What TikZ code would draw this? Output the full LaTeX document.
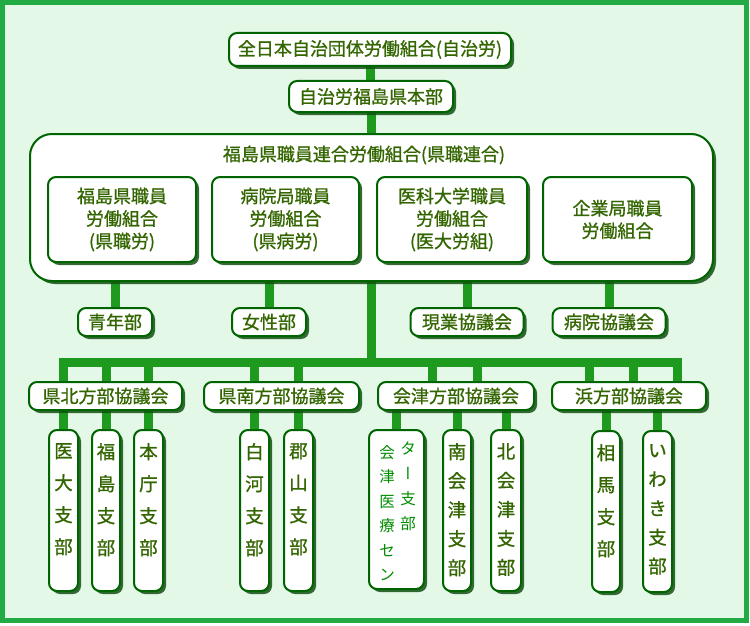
\documentclass[tikz,border=0pt]{standalone}
\usepackage{fontspec}
\setmainfont[FakeBold=1]{Noto Sans CJK JP}
\newfontfamily\vertfont[RawFeature=+vert]{Noto Sans CJK JP}
\newfontfamily\thinfont{Noto Sans CJK JP}
\usetikzlibrary{shadows}
\definecolor{bgc}{RGB}{228,248,232}
\definecolor{framec}{RGB}{34,170,68}
\definecolor{lineg}{RGB}{30,155,30}
\definecolor{bdr}{RGB}{0,100,0}
\definecolor{shd}{RGB}{20,80,20}
\definecolor{txt}{RGB}{51,102,0}
\definecolor{txtb}{RGB}{0,140,0}
\pgfdeclarelayer{bg}
\pgfsetlayers{bg,main}
\begin{document}
\begin{tikzpicture}[x=1pt,y=-1pt,
  box/.style={draw=bdr, line width=2pt, fill=white, rounded corners=8pt, inner sep=0pt,
     drop shadow={shadow xshift=3pt, shadow yshift=-3pt, fill=shd, opacity=0.85},
     text=txt, font=\fontsize{18pt}{22.5pt}\selectfont, align=center},
  conn/.style={draw=lineg, line width=9pt},
  vtxt/.style={text=txt, inner sep=0pt, anchor=north, align=center},
  vfour/.style={vtxt, font=\fontsize{18.5pt}{32pt}\selectfont},
  vfive/.style={vtxt, font=\fontsize{18.5pt}{29pt}\selectfont},
  vsmall/.style={inner sep=0pt, anchor=north, align=center, text=txtb, font=\thinfont\fontsize{15.5pt}{24.5pt}\selectfont},
]
\useasboundingbox (0,0) rectangle (750,626);
\begin{pgfonlayer}{bg}
\fill[white] (0,0) rectangle (750,626);
\draw[framec, line width=5pt, fill=bgc] (2.5,2.5) rectangle (746.5,620.5);
\end{pgfonlayer}

% top levels
\node[box, minimum width=282, minimum height=33] (top) at (370,49.5) {全日本自治団体労働組合(自治労)};
\node[box, minimum width=164, minimum height=31] (hq) at (371,96.5) {自治労福島県本部};
\node[box, rounded corners=22pt, minimum width=683, minimum height=147] (big) at (371.5,207.5) {};
\node[text=txt, inner sep=0pt, font=\fontsize{18pt}{22.5pt}\selectfont] (bigt) at (364,155) {福島県職員連合労働組合(県職連合)};

% unions inside
\node[box, minimum width=148, minimum height=85] (u1) at (122,219.5) {福島県職員\\労働組合\\(県職労)};
\node[box, minimum width=147, minimum height=85] (u2) at (285.5,219.5) {病院局職員\\労働組合\\(県病労)};
\node[box, minimum width=150, minimum height=85] (u3) at (452,219.5) {医科大学職員\\労働組合\\(医大労組)};
\node[box, minimum width=149, minimum height=85] (u4) at (617.5,219.5) {企業局職員\\労働組合};

% sections
\node[box, minimum width=74, minimum height=28] (s1) at (115,322) {青年部};
\node[box, minimum width=74, minimum height=28] (s2) at (269,322) {女性部};
\node[box, minimum width=113, minimum height=28] (s3) at (467,322) {現業協議会};
\node[box, minimum width=113, minimum height=28] (s4) at (609,322) {病院協議会};

% councils
\node[box, minimum width=153, minimum height=28] (c1) at (105.5,396) {県北方部協議会};
\node[box, minimum width=155, minimum height=28] (c2) at (281.5,396) {県南方部協議会};
\node[box, minimum width=156, minimum height=28] (c3) at (456,396) {会津方部協議会};
\node[box, minimum width=154, minimum height=28] (c4) at (629,396) {浜方部協議会};

% branches
\node[box, minimum width=29, minimum height=161] (b1) at (63.5,510.5) {};
\node[box, minimum width=28, minimum height=161] (b2) at (106,510.5) {};
\node[box, minimum width=29, minimum height=161] (b3) at (148.5,510.5) {};
\node[box, minimum width=29, minimum height=161] (b4) at (254.5,510.5) {};
\node[box, minimum width=29, minimum height=161] (b5) at (298.5,510.5) {};
\node[box, minimum width=55, minimum height=159] (b6) at (396.5,509.5) {};
\node[box, minimum width=28, minimum height=161] (b7) at (457,510.5) {};
\node[box, minimum width=30, minimum height=161] (b8) at (506,510.5) {};
\node[box, minimum width=28, minimum height=161] (b9) at (606,511.5) {};
\node[box, minimum width=29, minimum height=161] (b10) at (657.5,511.5) {};

\node[vfour] (b1t) at (63.5,443) {医\\大\\支\\部};
\node[vfour] (b2t) at (106,443) {福\\島\\支\\部};
\node[vfour] (b3t) at (148.5,443) {本\\庁\\支\\部};
\node[vfour] (b4t) at (254.5,443) {白\\河\\支\\部};
\node[vfour] (b5t) at (298.5,443) {郡\\山\\支\\部};
\node[vsmall] (b6l) at (387,445) {会\\津\\医\\療\\セ\\ン};
\node[vsmall, font=\thinfont\fontsize{15.5pt}{25pt}\selectfont] (b6r) at (408,442) {タ\\{\vertfont ー}\\支\\部};
\node[vfive] (b7t) at (457,443) {南\\会\\津\\支\\部};
\node[vfive] (b8t) at (506,443) {北\\会\\津\\支\\部};
\node[vfour] (b9t) at (606,444) {相\\馬\\支\\部};
\node[vfive] (b10t) at (657.5,444) {い\\わ\\き\\支\\部};

% bar coordinates
\coordinate (barL) at (63,362.5);
\coordinate (barR) at (677.5,362.5);
\coordinate (d1) at (432,362.5);
\coordinate (d2) at (477,362.5);
\coordinate (d3) at (589,362.5);
\coordinate (d4) at (633,362.5);
\coordinate (d5) at (677.5,362.5);

\begin{pgfonlayer}{bg}
\draw[conn] (top.south) -- (top.south |- hq.north);
\draw[conn] (hq.south) -- (hq.south |- big.north);
\draw[conn] (big.south) -- (big.south |- barL);
\draw[conn, line cap=rect] (barL) -- (barR);
\foreach \s in {s1,s2,s3,s4} \draw[conn] (\s.north) -- (\s.north |- big.south);
% drops bar -> councils
\foreach \b in {b1,b2,b3} \draw[conn] (\b.north |- barL) -- (\b.north |- c1.north);
\foreach \b in {b4,b5} \draw[conn] (\b.north |- barL) -- (\b.north |- c2.north);
\foreach \d in {d1,d2} \draw[conn] (\d) -- (\d |- c3.north);
\foreach \d in {d3,d4,d5} \draw[conn] (\d) -- (\d |- c4.north);
% councils -> branches
\foreach \b in {b1,b2,b3} \draw[conn] (\b.north) -- (\b.north |- c1.south);
\foreach \b in {b4,b5} \draw[conn] (\b.north) -- (\b.north |- c2.south);
\foreach \b in {b6,b7,b8} \draw[conn] (\b.north) -- (\b.north |- c3.south);
\foreach \b in {b9,b10} \draw[conn] (\b.north) -- (\b.north |- c4.south);
\end{pgfonlayer}
\end{tikzpicture}
\end{document}
